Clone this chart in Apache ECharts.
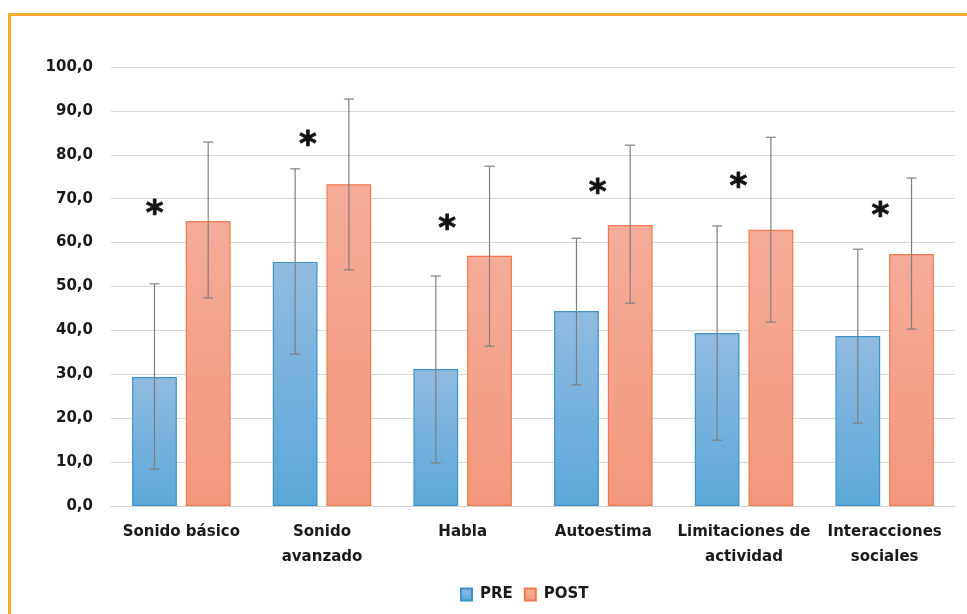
<!DOCTYPE html>
<html>
<head>
<meta charset="utf-8">
<script src="https://cdn.jsdelivr.net/npm/echarts@6/dist/echarts.min.js"></script>
<style>
  html, body { margin: 0; padding: 0; background: #fff; }
  #chart { width: 967px; height: 614px; }
</style>
</head>
<body>
<div id="chart"></div>
<script>
var categories = ['Sonido básico', 'Sonido\navanzado', 'Habla', 'Autoestima', 'Limitaciones de\nactividad', 'Interacciones\nsociales'];
var preValues = [29.4, 55.6, 31.2, 44.4, 39.4, 38.7];
var postValues = [64.9, 73.3, 57.0, 64.0, 62.9, 57.4];
var preLow = [8.4, 34.6, 9.8, 27.6, 15.0, 18.9];
var preHigh = [50.6, 76.8, 52.4, 61.0, 63.8, 58.5];
var postLow = [47.4, 53.8, 36.4, 46.2, 41.9, 40.3];
var postHigh = [82.9, 92.7, 77.4, 82.2, 84.0, 74.7];
// asterisk marks: position along the category axis (0..6) and height
var starX = [0.31, 1.40, 2.39, 3.46, 4.46, 5.47];
var starY = [68.1, 83.8, 64.7, 72.9, 74.3, 67.7];

var catGap = 0.30, barGap = 0.20;
var font = '"DejaVu Sans", sans-serif';

function errorSeries(name, low, high, side) {
    var data = low.map(function (v, i) { return [i, v, high[i]]; });
    return {
        name: name + '_err',
        type: 'custom',
        z: 5,
        silent: true,
        data: data,
        renderItem: function (params, api) {
            var band = api.size([1, 0])[0];
            var bw = band * (1 - catGap) / (2 + barGap);
            var off = side * (bw + bw * barGap) / 2;
            var lo = api.coord([api.value(0), api.value(1)]);
            var hi = api.coord([api.value(0), api.value(2)]);
            var x = lo[0] + off;
            var cap = 5;
            var st = { stroke: '#7f7f7f', lineWidth: 1.2 };
            return {
                type: 'group',
                children: [
                    { type: 'line', shape: { x1: x, y1: lo[1], x2: x, y2: hi[1] }, style: st },
                    { type: 'line', shape: { x1: x - cap, y1: lo[1], x2: x + cap, y2: lo[1] }, style: st },
                    { type: 'line', shape: { x1: x - cap, y1: hi[1], x2: x + cap, y2: hi[1] }, style: st }
                ]
            };
        }
    };
}

var chart = echarts.init(document.getElementById('chart'));
chart.setOption({
    backgroundColor: '#fff',
    animation: false,
    textStyle: { fontFamily: font },
    graphic: [{
        type: 'polyline',
        shape: { points: [[9.5, 614], [9.5, 14.5], [967, 14.5]] },
        style: { stroke: '#f9ab30', lineWidth: 3, fill: null }
    }],
    legend: {
        data: ['PRE', 'POST'],
        left: 455,
        top: 582,
        icon: 'rect',
        itemWidth: 11,
        itemHeight: 12,
        itemGap: 11,
        textStyle: { fontSize: 15, fontWeight: 'bold', color: '#1a1a1a', padding: [0, 0, 0, 3] }
    },
    grid: { left: 111, right: 12, top: 67, bottom: 108 },
    xAxis: [{
        type: 'category',
        data: categories,
        axisTick: { show: false },
        axisLine: { lineStyle: { color: '#d0d0d0' } },
        axisLabel: { fontSize: 15, fontWeight: 'bold', color: '#1a1a1a', margin: 14, lineHeight: 25, interval: 0 }
    }, {
        type: 'value',
        min: 0,
        max: 6,
        show: false
    }],
    yAxis: {
        type: 'value',
        min: 0,
        max: 100,
        interval: 10,
        axisLine: { show: false },
        axisTick: { show: false },
        splitLine: { lineStyle: { color: '#d9d9d9', width: 1 } },
        axisLabel: {
            fontSize: 15, fontWeight: 'bold', color: '#1a1a1a', margin: 18,
            formatter: function (v) { return v.toFixed(1).replace('.', ','); }
        }
    },
    series: [{
        name: 'PRE',
        type: 'bar',
        data: preValues,
        barGap: (barGap * 100) + '%',
        barCategoryGap: (catGap * 100) + '%',
        itemStyle: {
            borderColor: '#3f93c8',
            borderWidth: 1.2,
            color: new echarts.graphic.LinearGradient(0, 0, 0, 1, [
                { offset: 0, color: '#91bbe0' },
                { offset: 1, color: '#5ba8d9' }
            ])
        }
    }, {
        name: 'POST',
        type: 'bar',
        data: postValues,
        itemStyle: {
            borderColor: '#ef7a4f',
            borderWidth: 1.2,
            color: new echarts.graphic.LinearGradient(0, 0, 0, 1, [
                { offset: 0, color: '#f6ac99' },
                { offset: 1, color: '#f2977c' }
            ])
        }
    },
    errorSeries('PRE', preLow, preHigh, -1),
    errorSeries('POST', postLow, postHigh, 1),
    {
        name: 'sig',
        type: 'custom',
        xAxisIndex: 1,
        silent: true,
        z: 10,
        data: starX.map(function (x, i) { return [x, starY[i]]; }),
        renderItem: function (params, api) {
            var p = api.coord([api.value(0), api.value(1)]);
            return {
                type: 'text',
                x: p[0],
                y: p[1] + 8,
                style: {
                    text: '*',
                    fontSize: 34,
                    fontWeight: 'bold',
                    fontFamily: font,
                    fill: '#111',
                    stroke: '#111',
                    lineWidth: 0.8,
                    align: 'center',
                    verticalAlign: 'middle'
                }
            };
        }
    }]
});
</script>
</body>
</html>
